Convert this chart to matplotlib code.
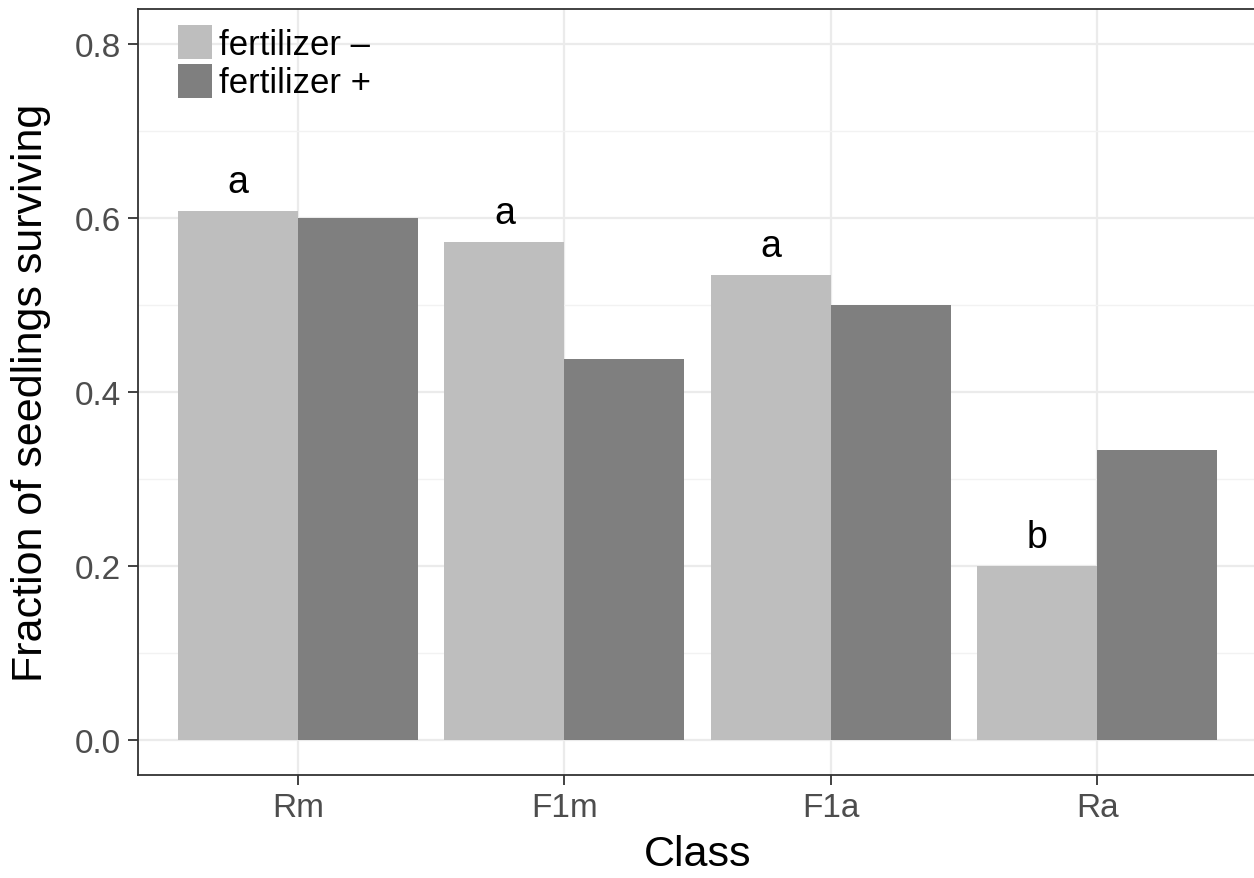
import numpy as np
import matplotlib.pyplot as plt
from matplotlib.patches import Patch
from matplotlib.ticker import MultipleLocator

plt.rcParams['font.family'] = ['Liberation Sans', 'DejaVu Sans']

clases = ['Rm', 'F1m', 'F1a', 'Ra']
sin_fert = [0.608, 0.572, 0.534, 0.200]
con_fert = [0.600, 0.438, 0.500, 0.333]
letras = ['a', 'a', 'a', 'b']

claro = '#bebebe'
oscuro = '#7f7f7f'

fig = plt.figure(figsize=(12.54, 8.79), dpi=100)
ax = fig.add_axes([138 / 1254, 103 / 879, 1119 / 1254, 766 / 879])

x = np.arange(len(clases))
ancho = 0.45
ax.bar(x - ancho / 2, sin_fert, ancho, color=claro, zorder=2)
ax.bar(x + ancho / 2, con_fert, ancho, color=oscuro, zorder=2)

for xi, v, l in zip(x, sin_fert, letras):
    ax.annotate(l, (xi - ancho / 2, v), xytext=(0, 8), textcoords='offset points',
                ha='center', va='bottom', fontsize=27, color='black')

ax.set_xlim(-0.6, len(clases) - 0.4)
ax.set_ylim(-0.04, 0.84)
ax.set_xticks(x)
ax.set_xticklabels(clases)
ax.yaxis.set_minor_locator(MultipleLocator(0.1))
ax.set_yticks([0, 0.2, 0.4, 0.6, 0.8])
ax.set_yticklabels(['0.0', '0.2', '0.4', '0.6', '0.8'])

ax.grid(True, which='major', color='#ebebeb', linewidth=1.6, zorder=0)
ax.grid(True, which='minor', axis='y', color='#f2f2f2', linewidth=1.0, zorder=0)
ax.set_axisbelow(True)
ax.tick_params(which='major', length=7, width=1.3, color='#333333',
               labelsize=24, labelcolor='#4d4d4d', pad=5)
ax.tick_params(which='minor', length=0)
for s in ax.spines.values():
    s.set_color('#333333')
    s.set_linewidth(1.3)

ax.set_xlabel('Class', fontsize=31, labelpad=8)
ax.set_ylabel('Fraction of seedlings surviving', fontsize=31, labelpad=17)

manijas = [Patch(facecolor=claro, edgecolor='none', label='fertilizer \u2013'),
           Patch(facecolor=oscuro, edgecolor='none', label='fertilizer +')]
ax.legend(handles=manijas, loc='upper left', bbox_to_anchor=(0.036, 0.979),
          frameon=False, fontsize=25, handlelength=0.98, handleheight=1.13,
          handletextpad=0.18, labelspacing=0.08, borderaxespad=0.0, borderpad=0.0)

fig.savefig('out.png', dpi=100, facecolor='white')
